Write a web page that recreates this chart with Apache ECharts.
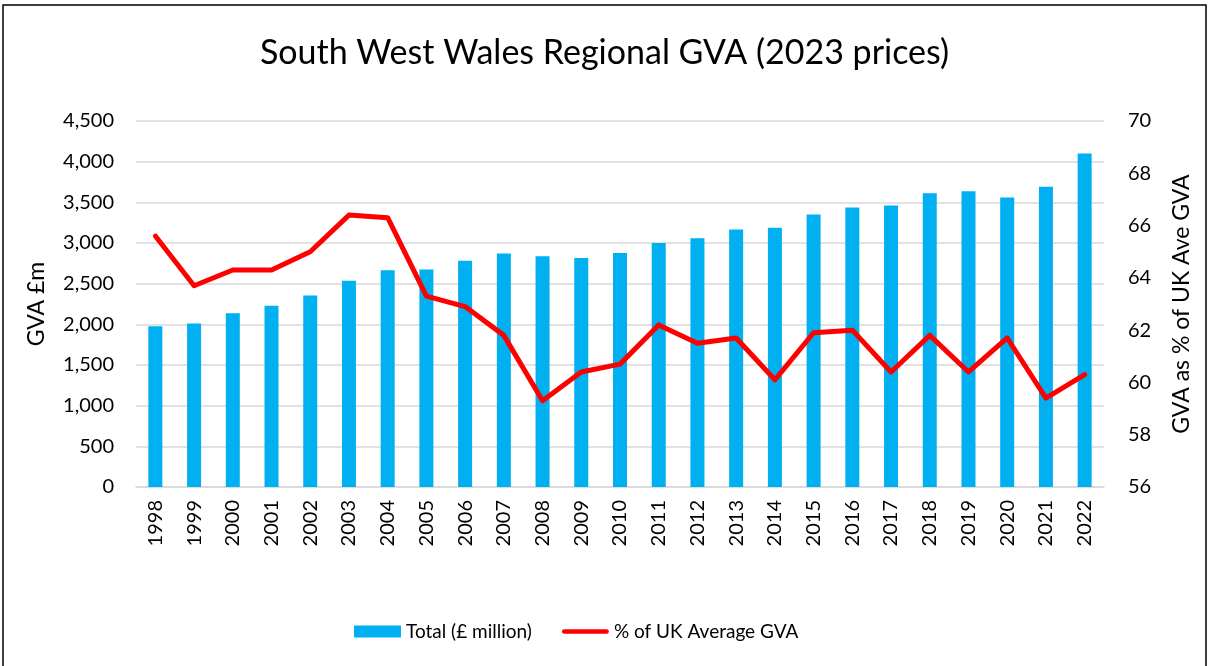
<!DOCTYPE html>
<html>
<head>
<meta charset="utf-8">
<script src="https://cdn.jsdelivr.net/npm/echarts@6/dist/echarts.min.js"></script>
<style>
html,body{margin:0;padding:0;background:#fff;}
#chart{width:1209px;height:666px;}
</style>
</head>
<body>
<div id="chart"></div>
<script>
const years = ['1998','1999','2000','2001','2002','2003','2004','2005','2006','2007','2008','2009','2010','2011','2012','2013','2014','2015','2016','2017','2018','2019','2020','2021','2022'];
const totalGVA = [1975,2010,2135,2230,2353,2537,2664,2673,2783,2870,2836,2816,2877,3000,3058,3165,3189,3349,3435,3460,3611,3636,3558,3693,4099];
const pctUK = [65.6,63.7,64.3,64.3,65.0,66.4,66.3,63.3,62.9,61.8,59.3,60.4,60.7,62.2,61.5,61.7,60.1,61.9,62.0,60.4,61.8,60.4,61.7,59.4,60.3];
const titleText = 'South West Wales Regional GVA (2023 prices)';
const seriesNames = ['Total (£ million)', '% of UK Average GVA'];
const leftAxisName = 'GVA £m';
const rightAxisName = 'GVA as % of UK Ave GVA';

const FONT = 'Lato, "Open Sans", sans-serif';
const chart = echarts.init(document.getElementById('chart'));
chart.setOption({
  backgroundColor: '#fff',
  animation: false,
  textStyle: { fontFamily: FONT, color: '#000' },
  graphic: [{
    type: 'rect', silent: true,
    shape: { x: 3, y: 5, width: 1203, height: 700 },
    style: { fill: 'none', stroke: '#000', lineWidth: 1.5 }
  }],
  title: {
    text: titleText, left: 'center', top: 31,
    textStyle: { fontFamily: FONT, fontSize: 34, fontWeight: 'normal', color: '#000' }
  },
  legend: {
    bottom: 20, left: 349, itemGap: 30, itemWidth: 47, itemHeight: 12,
    textStyle: { fontFamily: FONT, fontSize: 19, color: '#000' },
    data: [
      { name: seriesNames[0], icon: 'rect' },
      { name: seriesNames[1], icon: 'path://M5,0 L95,0 A5,5 0 0 1 95,10 L5,10 A5,5 0 0 1 5,0 Z' }
    ]
  },
  grid: { left: 136, right: 105, top: 121, bottom: 179, containLabel: false },
  xAxis: {
    type: 'category', data: years,
    axisLine: { lineStyle: { color: '#d9d9d9', width: 1.5 } },
    axisTick: { show: false },
    axisLabel: { rotate: 90, fontSize: 20, color: '#000', margin: 13, fontFamily: FONT }
  },
  yAxis: [{
    type: 'value', min: 0, max: 4500, interval: 500,
    name: leftAxisName, nameLocation: 'middle', nameGap: 88, nameRotate: 90,
    nameTextStyle: { fontSize: 23, color: '#000', fontFamily: FONT },
    axisLabel: { fontSize: 20, color: '#000', margin: 22, fontFamily: FONT,
      formatter: v => v.toLocaleString('en-GB') },
    splitLine: { lineStyle: { color: '#d9d9d9', width: 1.5 } },
    axisLine: { show: false }, axisTick: { show: false }
  }, {
    type: 'value', min: 56, max: 70, interval: 2, position: 'right',
    name: rightAxisName, nameLocation: 'middle', nameGap: 66, nameRotate: 90,
    nameTextStyle: { fontSize: 23, color: '#000', fontFamily: FONT },
    axisLabel: { fontSize: 20, color: '#000', margin: 24, fontFamily: FONT },
    splitLine: { show: false },
    axisLine: { show: false }, axisTick: { show: false }
  }],
  series: [{
    name: seriesNames[0], type: 'bar', data: totalGVA, yAxisIndex: 0,
    barWidth: 14, itemStyle: { color: '#00b0f0' }
  }, {
    name: seriesNames[1], type: 'line', data: pctUK, yAxisIndex: 1,
    symbol: 'none', lineStyle: { color: '#ff0000', width: 5, cap: 'round', join: 'round' },
    itemStyle: { color: '#ff0000' }
  }]
});
</script>
</body>
</html>
